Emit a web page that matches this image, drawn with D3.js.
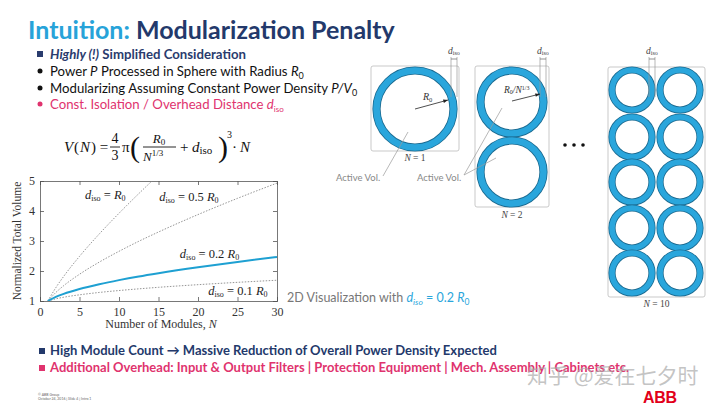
<!DOCTYPE html>
<html><head><meta charset="utf-8">
<script src="https://cdn.jsdelivr.net/npm/d3@7"></script>
<style>body{margin:0;background:#fff;}svg{display:block;}</style>
</head><body>
<svg id="s" width="720" height="407"></svg>
<script>
// ---- data ----
const nValues = [1, 2, 3, 5, 7.5, 10, 12.5, 15, 20, 25, 30];
const vIso01 = [1, 1.073, 1.126, 1.206, 1.285, 1.349, 1.405, 1.456, 1.544, 1.622, 1.692];
const vIso02 = [1, 1.136, 1.238, 1.399, 1.559, 1.696, 1.818, 1.927, 2.125, 2.303, 2.467];
const vIso05 = [1, 1.283, 1.511, 1.891, 2.296, 2.656, 2.990, 3.300, 3.881, 4.422, 4.930];
const nIso1 = [1, 2, 3, 5, 7.5, 10, 12.5, 14, 15];
const vIso1 = [1, 1.443, 1.821, 2.488, 3.234, 3.924, 4.578, 4.957, 5.2];
const xTicks = [0, 5, 10, 15, 20, 25, 30];
const yTicks = [1, 2, 3, 4, 5];
const curveLabels = [
  {n: 5.7, v: 4.4, k: "= R"},
  {n: 15.1, v: 4.34, k: "= 0.5 R"},
  {n: 17.7, v: 2.44, k: "= 0.2 R"},
  {n: 21.3, v: 1.2, k: "= 0.1 R"}
];
const bullets = [
  {c: "#2a3c6e", sq: true},
  {c: "#111", sq: false},
  {c: "#111", sq: false},
  {c: "#e0336e", sq: false}
];

const svg = d3.select("#s");
const SANS = "Lato, 'Open Sans', sans-serif";
const SERIF = "'Liberation Serif', 'DejaVu Serif', serif";
const BLUE = "#2aa6dc";

// ---- title ----
const title = svg.append("text").attr("x", 28).attr("y", 39)
  .attr("font-family", SANS).attr("font-weight", 700).attr("font-size", 25);
title.append("tspan").attr("fill", "#27a3d9").text("Intuition: ");
title.append("tspan").attr("fill", "#23396b").text("Modularization Penalty");

// ---- bullets ----
const by = [54, 71, 88, 104];
bullets.forEach((b, i) => {
  if (b.sq) svg.append("rect").attr("x", 37).attr("y", by[i] - 3).attr("width", 6).attr("height", 6).attr("fill", b.c);
  else svg.append("circle").attr("cx", 40).attr("cy", by[i]).attr("r", 2.5).attr("fill", b.c);
});
const fs = 13.2;
let t = svg.append("text").attr("x", 50).attr("y", by[0] + 4.5).attr("font-family", SANS).attr("font-size", fs).attr("fill", "#2a3c6e").attr("font-weight", 700);
t.append("tspan").attr("font-style", "italic").text("Highly (!)");
t.append("tspan").text(" Simplified Consideration");
t = svg.append("text").attr("x", 50).attr("y", by[1] + 4.5).attr("font-family", SANS).attr("font-size", fs).attr("fill", "#111");
t.append("tspan").text("Power ");
t.append("tspan").attr("font-style", "italic").text("P");
t.append("tspan").text(" Processed in Sphere with Radius ");
t.append("tspan").attr("font-style", "italic").text("R");
t.append("tspan").attr("font-size", 9).attr("dy", 3).text("0");
t = svg.append("text").attr("x", 50).attr("y", by[2] + 4.5).attr("font-family", SANS).attr("font-size", fs).attr("fill", "#111");
t.append("tspan").text("Modularizing Assuming Constant Power Density ");
t.append("tspan").attr("font-style", "italic").text("P/V");
t.append("tspan").attr("font-size", 9).attr("dy", 3).text("0");
t = svg.append("text").attr("x", 50).attr("y", by[3] + 4.5).attr("font-family", SANS).attr("font-size", fs).attr("fill", "#e0336e");
t.append("tspan").text("Const. Isolation / Overhead Distance ");
t.append("tspan").attr("font-style", "italic").text("d");
t.append("tspan").attr("font-size", 8).attr("dy", 3).text("iso");

// ---- formula ----
const F = svg.append("g").attr("font-family", SERIF).attr("fill", "#111");
F.append("text").attr("x", 64).attr("y", 152).attr("font-size", 15).attr("font-style", "italic").text("V");
F.append("text").attr("x", 74).attr("y", 152).attr("font-size", 15).text("(");
F.append("text").attr("x", 80).attr("y", 152).attr("font-size", 15).attr("font-style", "italic").text("N");
F.append("text").attr("x", 91).attr("y", 152).attr("font-size", 15).text(") =");
F.append("text").attr("x", 115).attr("y", 143).attr("font-size", 14).attr("text-anchor", "middle").text("4");
F.append("line").attr("x1", 110).attr("x2", 120).attr("y1", 147).attr("y2", 147).attr("stroke", "#111").attr("stroke-width", 0.9);
F.append("text").attr("x", 115).attr("y", 160).attr("font-size", 14).attr("text-anchor", "middle").text("3");
F.append("text").attr("x", 122).attr("y", 152).attr("font-size", 15).text("π");
F.append("text").attr("x", 130).attr("y", 157).attr("font-size", 30).attr("font-weight", 200).text("(");
F.append("text").attr("x", 159).attr("y", 143).attr("font-size", 13).attr("font-style", "italic").attr("text-anchor", "middle").text("R").append("tspan").attr("font-style", "normal").attr("font-size", 9).attr("dy", 2).text("0");
F.append("line").attr("x1", 143).attr("x2", 176).attr("y1", 147).attr("y2", 147).attr("stroke", "#111").attr("stroke-width", 0.9);
const den = F.append("text").attr("x", 143).attr("y", 161).attr("font-size", 13);
den.append("tspan").attr("font-style", "italic").text("N");
den.append("tspan").attr("font-size", 9).attr("dy", -5).text("1/3");
F.append("text").attr("x", 180).attr("y", 152).attr("font-size", 15).text("+");
const diso = F.append("text").attr("x", 192).attr("y", 152).attr("font-size", 15);
diso.append("tspan").attr("font-style", "italic").text("d");
diso.append("tspan").attr("font-size", 11).attr("dy", 2).text("iso");
F.append("text").attr("x", 218).attr("y", 157).attr("font-size", 30).attr("font-weight", 200).text(")");
F.append("text").attr("x", 227).attr("y", 138).attr("font-size", 10).text("3");
F.append("text").attr("x", 232).attr("y", 152).attr("font-size", 15).text("·");
F.append("text").attr("x", 240).attr("y", 152).attr("font-size", 15).attr("font-style", "italic").text("N");

// ---- chart ----
const L = 40, R = 277, T = 181, B = 301;
const x = d3.scaleLinear().domain([0, 30]).range([L, R]);
const y = d3.scaleLinear().domain([1, 5]).range([B, T]);
const g = svg.append("g").attr("font-family", SERIF);
g.append("clipPath").attr("id", "clp").append("rect").attr("x", L).attr("y", T).attr("width", R - L).attr("height", B - T);

const ax = g.append("g").attr("transform", `translate(0,${B})`)
  .call(d3.axisBottom(x).tickValues(xTicks).tickSize(-4).tickPadding(6).tickFormat(d3.format("d")));
const axT = g.append("g").attr("transform", `translate(0,${T})`)
  .call(d3.axisTop(x).tickValues(xTicks).tickSize(-4).tickFormat(""));
const ay = g.append("g").attr("transform", `translate(${L},0)`)
  .call(d3.axisLeft(y).tickValues(yTicks).tickSize(-4).tickPadding(5).tickFormat(d3.format("d")));
const ayR = g.append("g").attr("transform", `translate(${R},0)`)
  .call(d3.axisRight(y).tickValues(yTicks).tickSize(-4).tickFormat(""));
[ax, axT, ay, ayR].forEach(a => {
  a.select(".domain").attr("stroke", "#555").attr("stroke-width", 0.8);
  a.selectAll(".tick line").attr("stroke", "#555").attr("stroke-width", 0.8);
  a.selectAll("text").attr("font-family", SERIF).attr("font-size", 12).attr("fill", "#333");
});

const line = d3.line().x(d => x(d[0])).y(d => y(d[1])).curve(d3.curveMonotoneX);
const dotted = [
  d3.zip(nIso1, vIso1),
  d3.zip(nValues, vIso05),
  d3.zip(nValues, vIso01)
];
g.append("g").attr("clip-path", "url(#clp)").selectAll("path.d").data(dotted).join("path")
  .attr("d", line).attr("fill", "none").attr("stroke", "#888").attr("stroke-width", 0.9).attr("stroke-dasharray", "1.5,1.5");
g.append("path").datum(d3.zip(nValues, vIso02)).attr("d", line).attr("fill", "none")
  .attr("stroke", "#1ea0d2").attr("stroke-width", 2).attr("clip-path", "url(#clp)");

curveLabels.forEach(c => {
  const tt = g.append("text").attr("x", x(c.n)).attr("y", y(c.v)).attr("font-size", 12.5).attr("fill", "#222");
  tt.append("tspan").attr("font-style", "italic").text("d");
  tt.append("tspan").attr("font-size", 8).attr("dy", 2).text("iso");
  const parts = c.k.split("R");
  tt.append("tspan").attr("dy", -2).text(" " + parts[0]);
  tt.append("tspan").attr("font-style", "italic").text("R");
  tt.append("tspan").attr("font-size", 8).attr("dy", 2).text("0");
});

g.append("text").attr("transform", `translate(21,${(T + B) / 2}) rotate(-90)`).attr("text-anchor", "middle")
  .attr("font-size", 11.5).attr("fill", "#333").text("Normalized Total Volume");
const xl = g.append("text").attr("x", 161).attr("y", 328).attr("text-anchor", "middle").attr("font-size", 12).attr("fill", "#333");
xl.append("tspan").text("Number of Modules, ");
xl.append("tspan").attr("font-style", "italic").text("N");

// ---- 2D visualization ----
const mods = [
  {box: [371, 66, 88, 85], cx: [415], cy: [109], r: 42, th: 7, lab: "N = 1", ly: 161, dx: 451},
  {box: [475, 66, 74, 141], cx: [512], cy: [102, 172], r: 35, th: 7, lab: "N = 2", ly: 218, dx: 540},
  {box: [608, 67, 97, 230], cx: [632, 680], cy: [90, 137, 182, 228, 273], r: 23, th: 6, lab: "N = 10", ly: 307, dx: 649}
];
const V = svg.append("g").attr("font-family", SERIF);
mods.forEach(m => {
  V.append("rect").attr("x", m.box[0]).attr("y", m.box[1]).attr("width", m.box[2]).attr("height", m.box[3])
    .attr("rx", 2).attr("fill", "#fff").attr("stroke", "#bbb").attr("stroke-width", 0.8);
  m.cx.forEach(cx => m.cy.forEach(cy => {
    V.append("circle").attr("cx", cx).attr("cy", cy).attr("r", m.r - m.th / 2).attr("fill", "none")
      .attr("stroke", "#1b6a90").attr("stroke-width", m.th + 1.2);
    V.append("circle").attr("cx", cx).attr("cy", cy).attr("r", m.r - m.th / 2).attr("fill", "none")
      .attr("stroke", BLUE).attr("stroke-width", m.th - 0.4);
  }));
  const lt = V.append("text").attr("x", m.box[0] + m.box[2] / 2).attr("y", m.ly).attr("text-anchor", "middle").attr("font-size", 9.5).attr("fill", "#444");
  lt.append("tspan").attr("font-style", "italic").text("N");
  lt.append("tspan").text(m.lab.slice(1));
  // d_iso marker
  V.append("line").attr("x1", m.dx).attr("x2", m.dx).attr("y1", 57).attr("y2", 97).attr("stroke", "#999").attr("stroke-width", 0.7);
  V.append("line").attr("x1", m.dx + 6).attr("x2", m.dx + 6).attr("y1", 57).attr("y2", 97).attr("stroke", "#999").attr("stroke-width", 0.7);
  V.append("line").attr("x1", m.dx).attr("x2", m.dx + 6).attr("y1", 59).attr("y2", 59).attr("stroke", "#666").attr("stroke-width", 0.7);
  const dl = V.append("text").attr("x", m.dx + 3).attr("y", 54).attr("text-anchor", "middle").attr("font-size", 9.5).attr("fill", "#444");
  dl.append("tspan").attr("font-style", "italic").text("d");
  dl.append("tspan").attr("font-size", 6).attr("dy", 1).text("iso");
});
// radius arrows
const arrow = (x1, y1, x2, y2) => {
  V.append("line").attr("x1", x1).attr("y1", y1).attr("x2", x2).attr("y2", y2).attr("stroke", "#222").attr("stroke-width", 0.8);
  const a = Math.atan2(y2 - y1, x2 - x1);
  const p = [[x2, y2], [x2 - 5 * Math.cos(a - 0.35), y2 - 5 * Math.sin(a - 0.35)], [x2 - 5 * Math.cos(a + 0.35), y2 - 5 * Math.sin(a + 0.35)]];
  V.append("path").attr("d", d3.line()(p) + "Z").attr("fill", "#222");
};
arrow(415, 109, 448, 100);
arrow(512, 101, 540, 94);
let rl = V.append("text").attr("x", 423).attr("y", 100).attr("font-size", 10).attr("fill", "#333");
rl.append("tspan").attr("font-style", "italic").text("R");
rl.append("tspan").attr("font-size", 6.5).attr("dy", 2).text("0");
rl = V.append("text").attr("x", 504).attr("y", 93).attr("font-size", 9.5).attr("fill", "#333");
rl.append("tspan").attr("font-style", "italic").text("R");
rl.append("tspan").attr("font-size", 6).attr("dy", 1).text("0");
rl.append("tspan").attr("dy", -1).attr("font-style", "italic").text("/N");
rl.append("tspan").attr("font-size", 6).attr("dy", -3).text("1/3");
// active vol
const S = svg.append("g").attr("font-family", SANS).attr("fill", "#888").attr("font-size", 9.5);
S.append("text").attr("x", 336).attr("y", 181).text("Active Vol.");
S.append("text").attr("x", 417).attr("y", 181).text("Active Vol.");
[[383, 176, 408, 132], [464, 175, 502, 108], [464, 175, 496, 158]].forEach(l =>
  svg.append("line").attr("x1", l[0]).attr("y1", l[1]).attr("x2", l[2]).attr("y2", l[3]).attr("stroke", "#999").attr("stroke-width", 0.7));
// dots
[565, 574, 583].forEach(cx => svg.append("circle").attr("cx", cx).attr("cy", 145).attr("r", 1.8).attr("fill", "#111"));

const v2 = svg.append("text").attr("x", 287).attr("y", 302).attr("font-family", SANS).attr("font-size", 12.5).attr("fill", "#777");
v2.append("tspan").text("2D Visualization with ");
v2.append("tspan").attr("fill", "#2aa6dc").attr("font-style", "italic").text("d");
v2.append("tspan").attr("fill", "#2aa6dc").attr("font-size", 8.5).attr("dy", 3).attr("font-style", "italic").text("iso");
v2.append("tspan").attr("fill", "#2aa6dc").attr("dy", -3).text(" = 0.2 ");
v2.append("tspan").attr("fill", "#2aa6dc").attr("font-style", "italic").text("R");
v2.append("tspan").attr("fill", "#2aa6dc").attr("font-size", 8.5).attr("dy", 3).text("0");

// ---- bottom bullets ----
svg.append("rect").attr("x", 39).attr("y", 348).attr("width", 6).attr("height", 6).attr("fill", "#23396b");
svg.append("text").attr("x", 50).attr("y", 355).attr("font-family", SANS).attr("font-weight", 700).attr("font-size", 13).attr("fill", "#23396b")
  .text("High Module Count → Massive Reduction of Overall Power Density Expected");
svg.append("rect").attr("x", 39).attr("y", 365).attr("width", 6).attr("height", 6).attr("fill", "#e0336e");
svg.append("text").attr("x", 50).attr("y", 372).attr("font-family", SANS).attr("font-weight", 700).attr("font-size", 13).attr("fill", "#e0336e")
  .text("Additional Overhead: Input & Output Filters | Protection Equipment | Mech. Assembly | Cabinets etc.");

// footer
svg.append("text").attr("x", 38).attr("y", 396).attr("font-family", SANS).attr("font-size", 3.5).attr("fill", "#666").text("© ABB Group");
svg.append("text").attr("x", 38).attr("y", 400).attr("font-family", SANS).attr("font-size", 3.5).attr("fill", "#666").text("October 24, 2016 | Slide 4   | Intro 1");
svg.append("text").attr("x", 643).attr("y", 403).attr("font-family", "'Liberation Sans', sans-serif").attr("font-weight", 700).attr("font-size", 16).attr("fill", "#e2001a").attr("letter-spacing", -0.3).text("ABB");
// watermark
svg.append("text").attr("x", 527).attr("y", 383).attr("font-family", "'Noto Sans CJK SC', sans-serif").attr("font-size", 21).attr("fill", "#aaa").attr("fill-opacity", 0.7).text("知乎 @爱在七夕时");
</script>
</body></html>
